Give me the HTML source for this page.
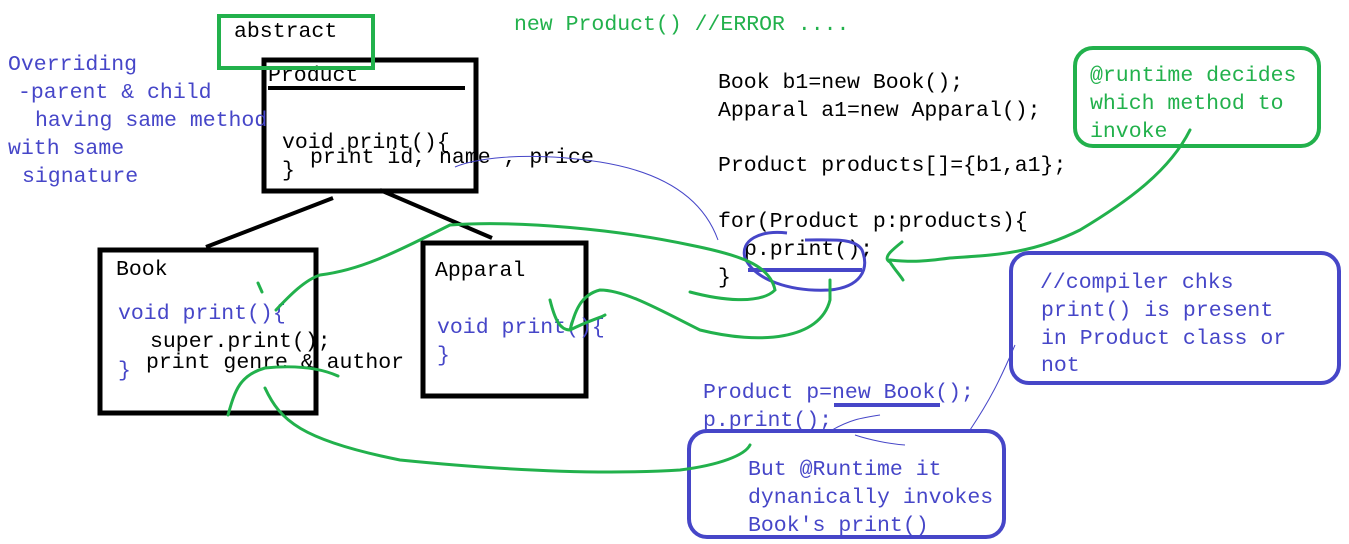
<!DOCTYPE html>
<html><head><meta charset="utf-8"><style>
html,body{margin:0;padding:0;background:#fff;}
svg{display:block;}
text{font-family:"Liberation Mono",monospace;font-size:21.5px;}
.b{fill:#4646c8}.k{fill:#000}.g{fill:#22b14c}
</style></head><body>
<svg width="1349" height="544" viewBox="0 0 1349 544" xmlns="http://www.w3.org/2000/svg">
<rect x="264" y="60" width="212" height="131" fill="none" stroke="#000" stroke-width="5"/>
<line x1="268" y1="88" x2="465" y2="88" stroke="#000" stroke-width="4"/>
<rect x="100" y="250" width="216" height="163" fill="none" stroke="#000" stroke-width="5"/>
<rect x="423" y="243" width="163" height="153" fill="none" stroke="#000" stroke-width="5"/>
<line x1="333" y1="198" x2="206" y2="247" stroke="#000" stroke-width="4"/>
<line x1="380" y1="190" x2="492" y2="238" stroke="#000" stroke-width="4"/>
<text x="268" y="81" class="k">Product</text>
<rect x="219" y="16" width="154" height="52" fill="none" stroke="#22b14c" stroke-width="4"/>
<text x="234" y="37" class="k">abstract</text>
<text x="514" y="30" class="g">new Product() //ERROR ....</text>

<text x="8" y="70" class="b">Overriding</text>
<text x="18" y="98" class="b">-parent &amp; child</text>
<text x="35" y="126" class="b">having same method</text>
<text x="8" y="154" class="b">with same</text>
<text x="22" y="182" class="b">signature</text>

<text x="282" y="148" class="k">void print(){</text>
<text x="310" y="163" class="k">print id, name , price</text>
<text x="282" y="176" class="k">}</text>

<text x="116" y="275" class="k">Book</text>
<text x="118" y="319" class="b">void print(){</text>
<text x="150" y="347" class="k">super.print();</text>
<text x="146" y="368" class="k">print genre &amp; author</text>
<text x="118" y="376" class="b">}</text>

<text x="435" y="276" class="k">Apparal</text>
<text x="437" y="333" class="b">void print(){</text>
<text x="437" y="361" class="b">}</text>

<text x="718" y="88" class="k">Book b1=new Book();</text>
<text x="718" y="116" class="k">Apparal a1=new Apparal();</text>
<text x="718" y="171" class="k">Product products[]={b1,a1};</text>
<text x="718" y="227" class="k">for(Product p:products){</text>
<text x="744" y="255" class="k">p.print();</text>
<text x="718" y="283" class="k">}</text>

<rect x="1075" y="48" width="244" height="98" rx="18" fill="none" stroke="#22b14c" stroke-width="4"/>
<text x="1090" y="81" class="g">@runtime decides</text>
<text x="1090" y="109" class="g">which method to</text>
<text x="1090" y="137" class="g">invoke</text>

<rect x="1011" y="253" width="328" height="130" rx="18" fill="none" stroke="#4646c8" stroke-width="4"/>
<text x="1040" y="288" class="b"> //compiler chks</text>
<text x="1041" y="316" class="b">print() is present</text>
<text x="1041" y="344" class="b">in Product class or</text>
<text x="1041" y="371" class="b">not</text>

<text x="703" y="398" class="b">Product p=new Book();</text>
<text x="703" y="426" class="b">p.print();</text>
<line x1="834" y1="405" x2="940" y2="405" stroke="#4646c8" stroke-width="4"/>

<rect x="689" y="431" width="315" height="106" rx="18" fill="none" stroke="#4646c8" stroke-width="4"/>
<text x="748" y="475" class="b">But @Runtime it</text>
<text x="748" y="503" class="b">dynanically invokes</text>
<text x="748" y="531" class="b">Book's print()</text>

<g fill="none" stroke="#4646c8">
<line x1="748" y1="270" x2="862" y2="270" stroke-width="4"/>
<path d="M787,233 C760,230 740,240 745,258 C755,280 790,292 830,290 C860,287 870,270 862,250 C855,238 835,240 805,240" stroke-width="3"/>
<path d="M455,167 C470,160 520,150 600,162 C650,170 700,190 718,240" stroke-width="1"/>
<path d="M970,430 C990,400 1000,380 1015,345" stroke-width="1"/>
<path d="M832,430 C850,420 860,418 880,415 M855,435 C870,440 890,444 905,445" stroke-width="1"/>
</g>
<g fill="none" stroke="#22b14c" stroke-width="3" stroke-linecap="round">
<path d="M276,310 C290,295 305,280 320,275 C360,270 390,255 450,225 C520,220 620,230 690,245 C740,255 770,265 775,290 C760,305 720,300 690,292"/>
<path d="M258,283 L262,292"/>
<path d="M550,300 C555,320 560,330 570,330 C590,320 600,318 605,315"/>
<path d="M570,330 C575,312 580,295 600,290 C625,290 660,310 700,330 C760,345 820,340 830,300 L830,280"/>
<path d="M228,415 C235,390 240,375 265,368 C295,365 320,368 338,376"/>
<path d="M265,388 C280,420 300,440 400,460 C500,470 600,475 680,470 C720,465 745,455 750,445"/>
<path d="M1190,130 C1170,170 1130,200 1080,230 C1030,255 990,255 950,258 C920,262 910,262 890,260"/>
<path d="M902,242 C892,250 882,258 890,262 C895,270 900,275 903,280"/>
</g>
</svg>
</body></html>
